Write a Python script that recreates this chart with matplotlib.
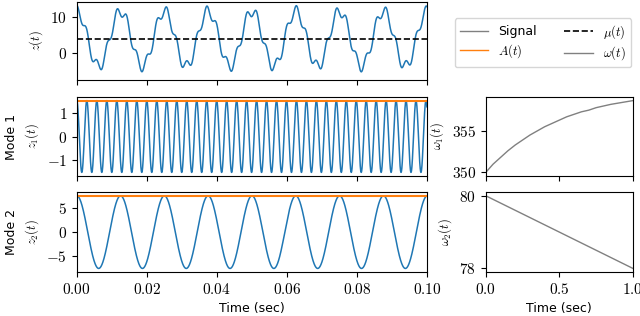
import numpy as np
import matplotlib
matplotlib.use('Agg')
import matplotlib.pyplot as plt
from matplotlib.ticker import FormatStrFormatter

plt.rcParams['mathtext.fontset'] = 'cm'
plt.rcParams['font.family'] = ['DejaVu Sans']

# values
mu = 4.0                      # mean of the signal
amp1 = 1.5                    # mode 1 amplitude
amp2 = 7.5                    # mode 2 amplitude
t_w1 = [0.0, 0.05, 0.1, 0.15, 0.2, 0.25, 0.3, 0.35, 0.4, 0.45, 0.5,
        0.55, 0.6, 0.65, 0.7, 0.75, 0.8, 0.85, 0.9, 0.95, 1.0]
w1 = [350.0, 351.0, 351.8, 352.6, 353.3, 353.9, 354.5, 355.0, 355.5, 355.9, 356.3,
      356.7, 357.0, 357.3, 357.5, 357.8, 358.0, 358.2, 358.35, 358.5, 358.65]
t_w2 = [0.0, 1.0]
w2 = [80.0, 78.0]

# modes rebuilt from the read frequencies/amplitudes over the 0.1 s window
t = np.linspace(0, 0.1, 4000)
f1 = np.interp(t, t_w1, w1)
f2 = np.interp(t, t_w2, w2)
dt = t[1] - t[0]
ph1 = 2*np.pi*np.concatenate([[0], np.cumsum((f1[1:] + f1[:-1])/2*dt)])
ph2 = 2*np.pi*np.concatenate([[0], np.cumsum((f2[1:] + f2[:-1])/2*dt)])
z1 = amp1*np.cos(ph1)
z2 = amp2*np.cos(ph2)
z = mu + z1 + z2

blue = '#1f77b4'
orange = '#ff7f0e'
grey = 'grey'

fig = plt.figure(figsize=(6.4, 3.16), dpi=100)
ax0 = fig.add_axes([0.120, 0.747, 0.547, 0.247])
ax1 = fig.add_axes([0.120, 0.443, 0.547, 0.250], sharex=ax0)
ax2 = fig.add_axes([0.120, 0.139, 0.547, 0.253], sharex=ax0)
bx1 = fig.add_axes([0.759, 0.443, 0.230, 0.250])
bx2 = fig.add_axes([0.759, 0.139, 0.230, 0.253], sharex=bx1)

ax0.plot(t, z, color=blue, lw=1.1)
ax0.axhline(mu, color='k', ls='--', lw=1.2)
ax0.set_ylim(-7.2, 14)
ax0.set_yticks([0, 10])
ax0.set_ylabel(r'$z(t)$', fontsize=9)

ax1.plot(t, z1, color=blue, lw=1.1)
ax1.axhline(amp1, color=orange, lw=1.5)
ax1.set_yticks([-1, 0, 1])
ax1.set_ylabel(r'$z_1(t)$', fontsize=9)

ax2.plot(t, z2, color=blue, lw=1.1)
ax2.axhline(amp2, color=orange, lw=1.5)
ax2.set_yticks([-5, 0, 5])
ax2.set_ylabel(r'$z_2(t)$', fontsize=9)
ax2.set_xlim(0, 0.1)
ax2.set_xticks([0, 0.02, 0.04, 0.06, 0.08, 0.1])
ax2.xaxis.set_major_formatter(FormatStrFormatter(r'$%.2f$'))
ax2.set_xlabel('Time (sec)', fontsize=9)
plt.setp(ax0.get_xticklabels(), visible=False)
plt.setp(ax1.get_xticklabels(), visible=False)

bx1.plot(t_w1, w1, color=grey, lw=1)
bx1.set_yticks([350, 355])
bx1.set_ylabel(r'$\omega_1(t)$', fontsize=9)
plt.setp(bx1.get_xticklabels(), visible=False)

bx2.plot(t_w2, w2, color=grey, lw=1)
bx2.set_yticks([78, 80])
bx2.set_ylabel(r'$\omega_2(t)$', fontsize=9)
bx2.set_xlim(0, 1)
bx2.set_xticks([0, 0.5, 1.0])
bx2.xaxis.set_major_formatter(FormatStrFormatter(r'$%.1f$'))
bx2.set_xlabel('Time (sec)', fontsize=9)

for a in (ax0, ax1, ax2, bx1, bx2):
    a.yaxis.set_major_formatter(FormatStrFormatter(r'$%d$'))
    a.tick_params(labelsize=11)

fig.text(0.018, (0.443 + 0.693)/2, 'Mode 1', rotation=90, ha='center', va='center', fontsize=9)
fig.text(0.018, (0.139 + 0.392)/2, 'Mode 2', rotation=90, ha='center', va='center', fontsize=9)

handles = [
    plt.Line2D([], [], color=grey, lw=1),
    plt.Line2D([], [], color=orange, lw=1),
    plt.Line2D([], [], color='k', ls='--', lw=1.2),
    plt.Line2D([], [], color=grey, lw=1),
]
labels = ['Signal', r'$A(t)$', r'$\mu(t)$', r'$\omega(t)$']
fig.legend(handles, labels, ncol=2, loc='upper right',
           bbox_to_anchor=(631/640, 1 - 18/316), fontsize=9,
           borderaxespad=0, columnspacing=2.2, handlelength=2.3,
           labelspacing=0.3, borderpad=0.4)

fig.savefig('out.png', dpi=100)
